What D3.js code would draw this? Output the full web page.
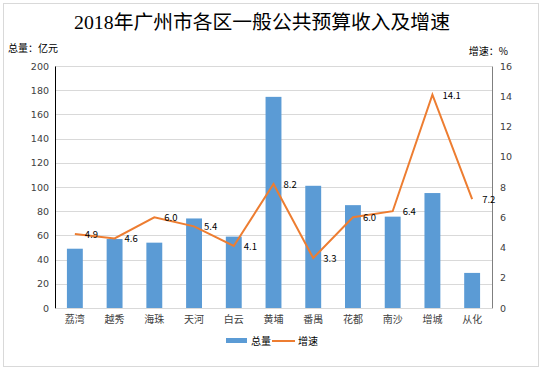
<!DOCTYPE html>
<html>
<head>
<meta charset="utf-8">
<script src="https://cdn.jsdelivr.net/npm/d3@7"></script>
<style>
  body { margin: 0; background: #fff; }
  svg text { font-family: "Noto Sans CJK SC", "DejaVu Sans", sans-serif; }
  .tick text { font-family: "DejaVu Sans", sans-serif; font-size: 9.5px; fill: #404040; }
</style>
</head>
<body>
<div id="chart"></div>
<script>
// categories and series
var districts = ["荔湾", "越秀", "海珠", "天河", "白云", "黄埔", "番禺", "花都", "南沙", "增城", "从化"];
var totals = [49, 57, 54, 74, 59, 174.5, 101, 85, 75.5, 95, 29];
var growth = [4.9, 4.6, 6.0, 5.4, 4.1, 8.2, 3.3, 6.0, 6.4, 14.1, 7.2];
var leftTicks = [0, 20, 40, 60, 80, 100, 120, 140, 160, 180, 200];
var rightTicks = [0, 2, 4, 6, 8, 10, 12, 14, 16];

var width = 542, height = 372;
var margin = {top: 66, right: 50, bottom: 64, left: 55};

var svg = d3.select("#chart").append("svg")
    .attr("width", width)
    .attr("height", height);

// outer border
svg.append("rect")
    .attr("x", 3.5).attr("y", 3.5)
    .attr("width", 535).attr("height", 363)
    .attr("fill", "none")
    .attr("stroke", "#d9d9d9");

var x = d3.scaleBand()
    .domain(districts)
    .range([margin.left, width - margin.right])
    .paddingInner(0.6)
    .paddingOuter(0.3);

var yL = d3.scaleLinear().domain([0, 200]).range([height - margin.bottom, margin.top]);
var yR = d3.scaleLinear().domain([0, 16]).range([height - margin.bottom, margin.top]);

// gridlines
svg.append("g")
  .selectAll("line")
  .data(leftTicks.slice(1))
  .enter().append("line")
    .attr("x1", margin.left).attr("x2", width - margin.right)
    .attr("y1", function(d) { return Math.round(yL(d)) + 0.5; })
    .attr("y2", function(d) { return Math.round(yL(d)) + 0.5; })
    .attr("stroke", "#d9d9d9");

// bars
svg.append("g")
  .selectAll("rect")
  .data(totals)
  .enter().append("rect")
    .attr("x", function(d, i) { return x(districts[i]); })
    .attr("y", function(d) { return yL(d); })
    .attr("width", x.bandwidth())
    .attr("height", function(d) { return yL(0) - yL(d); })
    .attr("fill", "#5b9bd5");

// axes
var axisL = svg.append("g")
    .attr("transform", "translate(" + margin.left + ",0)")
    .call(d3.axisLeft(yL).tickValues(leftTicks).tickSize(0).tickPadding(6));
axisL.select(".domain").attr("stroke", "#000");

var axisR = svg.append("g")
    .attr("transform", "translate(" + (width - margin.right) + ",0)")
    .call(d3.axisRight(yR).tickValues(rightTicks).tickSize(0).tickPadding(8));
axisR.select(".domain").attr("stroke", "#7f7f7f");

var axisB = svg.append("g")
    .attr("transform", "translate(0," + (height - margin.bottom) + ")")
    .call(d3.axisBottom(x).tickSize(0).tickPadding(8));
axisB.select(".domain").attr("stroke", "#d9d9d9");
axisB.selectAll("text")
    .style("font-family", "'Noto Sans CJK SC', sans-serif")
    .style("font-size", "10px");

// growth line
var line = d3.line()
    .x(function(d, i) { return x(districts[i]) + x.bandwidth() / 2; })
    .y(function(d) { return yR(d); });

svg.append("path")
    .datum(growth)
    .attr("fill", "none")
    .attr("stroke", "#ed7d31")
    .attr("stroke-width", 2)
    .attr("d", line);

svg.append("g")
  .selectAll("text")
  .data(growth)
  .enter().append("text")
    .attr("x", function(d, i) { return x(districts[i]) + x.bandwidth() / 2 + 10; })
    .attr("y", function(d) { return yR(d) + 4; })
    .attr("font-family", "DejaVu Sans, sans-serif")
    .attr("font-size", "9.5px")
    .attr("fill", "#000")
    .text(function(d) { return d.toFixed(1); });

// title
svg.append("text")
    .attr("x", 262)
    .attr("y", 29)
    .attr("text-anchor", "middle")
    .attr("font-size", "19.8px")
    .attr("fill", "#000")
    .style("font-family", "'Liberation Serif', 'Noto Sans CJK SC', serif")
    .text("2018年广州市各区一般公共预算收入及增速");

// axis titles
svg.append("text")
    .attr("x", 8).attr("y", 52)
    .attr("font-size", "10px")
    .text("总量：亿元");

svg.append("text")
    .attr("x", 508).attr("y", 55)
    .attr("text-anchor", "end")
    .attr("font-size", "10px")
    .text("增速：%");

// legend
var legend = svg.append("g").attr("transform", "translate(226,341)");
legend.append("rect")
    .attr("x", 0).attr("y", -3)
    .attr("width", 21).attr("height", 5)
    .attr("fill", "#5b9bd5");
legend.append("text")
    .attr("x", 25).attr("y", 4)
    .attr("font-size", "10px")
    .text("总量");
legend.append("line")
    .attr("x1", 46).attr("x2", 69)
    .attr("y1", 0).attr("y2", 0)
    .attr("stroke", "#ed7d31")
    .attr("stroke-width", 2);
legend.append("text")
    .attr("x", 72).attr("y", 4)
    .attr("font-size", "10px")
    .text("增速");
</script>
</body>
</html>
